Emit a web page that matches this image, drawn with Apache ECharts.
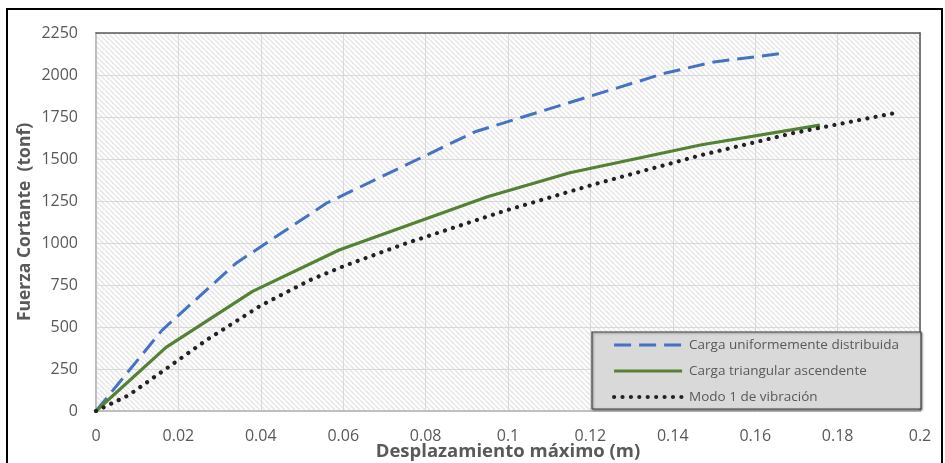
<!DOCTYPE html>
<html>
<head>
<meta charset="utf-8">
<script src="https://cdn.jsdelivr.net/npm/echarts@6/dist/echarts.min.js"></script>
<style>
html,body{margin:0;padding:0;background:#fff;}
#chart{width:945px;height:463px;}
</style>
</head>
<body>
<div id="chart"></div>
<script>
// Data (displacement in m, shear in tonf)
const seriesNames = ['Carga uniformemente distribuida', 'Carga triangular ascendente', 'Modo 1 de vibración'];
const uniformeX = [0, 0.016, 0.034, 0.056, 0.092, 0.138, 0.150, 0.167];
const uniformeY = [0, 480, 880, 1238, 1662, 2010, 2078, 2130];
const triangularX = [0, 0.017, 0.038, 0.059, 0.095, 0.115, 0.147, 0.1757];
const triangularY = [0, 379, 712, 958, 1275, 1418, 1585, 1702];
const modoX = [0, 0.008, 0.027, 0.040, 0.052, 0.0604, 0.075, 0.099, 0.121, 0.147, 0.169, 0.1935];
const modoY = [0, 95, 425, 628, 780, 865, 996, 1190, 1350, 1524, 1653, 1772];
const xTitle = 'Desplazamiento máximo (m)';
const yTitle = 'Fuerza Cortante  (tonf)';

function pairs(xs, ys){ return xs.map((x,i)=>[x, ys[i]]); }

// hatch pattern
const tile = document.createElement('canvas');
const s = 5;
tile.width = s; tile.height = s;
const c = tile.getContext('2d');
c.fillStyle = '#ffffff';
c.fillRect(0,0,s,s);
c.strokeStyle = '#e8e8e8';
c.lineWidth = 1.6;
for (const k of [-s, 0, s]) {
  c.beginPath(); c.moveTo(k, 0); c.lineTo(k + s, s); c.stroke();
}

const txt = '#595959';
const font = "'Open Sans', 'Noto Sans', sans-serif";
const styles = [
  {color: '#4472c4', width: 3, type: [17, 8]},
  {color: '#548235', width: 3.2, type: 'solid'},
  {color: '#222222', width: 4.2, type: [0.01, 8.4], cap: 'round'}
];

const chart = echarts.init(document.getElementById('chart'), null, {renderer:'canvas'});
chart.setOption({
  animation: false,
  backgroundColor: '#ffffff',
  grid: {
    left: 96, right: 25, top: 33, bottom: 52,
    outerBoundsMode: 'none',
    containLabel: false,
    show: true,
    backgroundColor: {image: tile, repeat: 'repeat'},
    borderWidth: 0
  },
  graphic: [
    {type:'rect', z: 0, shape:{x:7, y:9, width:935, height:470}, style:{fill:'none', stroke:'#000', lineWidth:2}},
    {type:'rect', z: 5, shape:{x:592, y:332, width:329, height:77}, style:{fill:'#d9d9d9', stroke:'#404040', lineWidth:1.2, shadowBlur:2, shadowOffsetX:1, shadowOffsetY:1, shadowColor:'rgba(0,0,0,0.4)'}}
  ],
  legend: {
    z: 6,
    orient: 'vertical',
    left: 612, top: 338,
    itemWidth: 68, itemHeight: 14, itemGap: 12,
    padding: 0,
    itemStyle: {opacity: 0},
    textStyle: {color: txt, fontSize: 13.5, fontFamily: font, padding:[0,0,0,2]},
    data: seriesNames.map((n, i) => ({name: n, itemStyle: {opacity: 0}, lineStyle: Object.assign({opacity: 1}, styles[i])}))
  },
  xAxis: [{
    type: 'value', min: 0, max: 0.2, interval: 0.02,
    name: xTitle, nameLocation: 'middle', nameGap: 31, nameMoveOverlap: false,
    nameTextStyle: {color: txt, fontSize: 18.5, fontWeight: 'bold', fontFamily: font},
    axisLine: {show: true, lineStyle: {color: '#bfbfbf', width: 2}},
    axisTick: {show: false},
    axisLabel: {color: txt, fontSize: 16, fontFamily: font, margin: 17,
      formatter: v => String(+v.toFixed(2))},
    splitLine: {show: true, lineStyle: {color: '#d9d9d9', width: 1}}
  }, {
    type: 'value', min: 0, max: 0.2, position: 'top',
    axisLine: {show: true, onZero: false, lineStyle: {color: '#595959', width: 1.5}},
    axisTick: {show: false}, axisLabel: {show: false}, splitLine: {show: false}
  }],
  yAxis: [{
    type: 'value', min: 0, max: 2250, interval: 250,
    name: yTitle, nameLocation: 'middle', nameGap: 62, nameRotate: 90, nameMoveOverlap: false,
    nameTextStyle: {color: txt, fontSize: 17.5, fontWeight: 'bold', fontFamily: font},
    axisLine: {show: true, lineStyle: {color: '#bfbfbf', width: 2}},
    axisTick: {show: false},
    axisLabel: {color: txt, fontSize: 16, fontFamily: font, margin: 18,
      formatter: v => String(v)},
    splitLine: {show: true, lineStyle: {color: '#d9d9d9', width: 1}}
  }, {
    type: 'value', min: 0, max: 2250, position: 'right',
    axisLine: {show: true, onZero: false, lineStyle: {color: '#595959', width: 1.5}},
    axisTick: {show: false}, axisLabel: {show: false}, splitLine: {show: false}
  }],
  series: [
    {name: seriesNames[0], type: 'line', data: pairs(uniformeX, uniformeY), symbol: 'none', z: 3,
     color: styles[0].color, lineStyle: styles[0]},
    {name: seriesNames[1], type: 'line', data: pairs(triangularX, triangularY), symbol: 'none', z: 3,
     color: styles[1].color, lineStyle: styles[1]},
    {name: seriesNames[2], type: 'line', data: pairs(modoX, modoY), symbol: 'none', z: 3,
     color: styles[2].color, lineStyle: styles[2]}
  ]
});
</script>
</body>
</html>
